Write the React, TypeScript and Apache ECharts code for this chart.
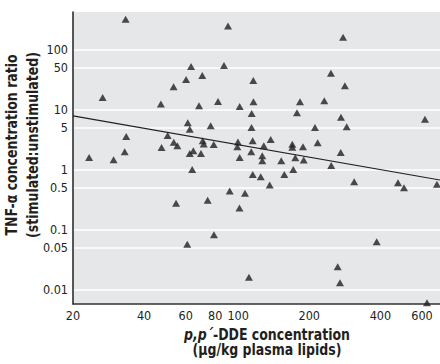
import React, { useEffect, useRef } from "react";
import * as echarts from "echarts";

// p,p'-DDE concentration (µg/kg plasma lipids)
const ddeValues = [
  33.4, 90.6, 278, 63.2, 87.1, 247, 60.2, 70.5, 115.9, 53.3,
  283, 26.7, 47.1, 68.3, 82.2, 101.5, 116.1, 182.7, 231.5, 114.1,
  177.4, 272.4, 617.6, 61.2, 62.4, 76.5, 113.9, 211.4, 288, 33.6,
  50.3, 53.4, 55.3, 47.4, 70.8, 71.5, 78.8, 99.8, 99.2, 115.2,
  137.3, 128.4, 169.5, 169.5, 188.1, 217, 33.1, 23.4, 29.7, 64.6,
  62.4, 69.6, 101.5, 113.6, 126.5, 126.5, 152.2, 174.5, 189.4, 271.7,
  247.7, 63.9, 115.3, 124.6, 156.8, 171.1, 136, 309.8, 474.8, 503.5,
  694, 92.1, 106.9, 54.6, 74.3, 101.3, 79, 60.9, 385.8, 263.8,
  111.1, 269.8, 629.8,
];
// TNF-alpha concentration ratio (stimulated:unstimulated)
const tnfRatios = [
  315, 244, 158, 51.8, 53.8, 39.9, 31.5, 36.7, 30.3, 23.9,
  24.8, 15.8, 12.3, 11.55, 13.6, 11.2, 13.5, 13.5, 14.0, 8.57,
  8.84, 7.41, 6.87, 6.03, 4.68, 5.38, 5.02, 5.02, 5.17, 3.56,
  3.69, 2.85, 2.5, 2.33, 3.03, 2.67, 2.62, 2.88, 2.41, 3.03,
  3.17, 2.5, 2.64, 2.35, 2.41, 2.8, 1.98, 1.59, 1.46, 2.06,
  1.86, 1.86, 1.59, 1.99, 1.71, 1.41, 1.41, 1.58, 1.45, 1.93,
  1.17, 1.006, 0.834, 0.763, 0.834, 1.006, 0.556, 0.63, 0.607, 0.501,
  0.571, 0.442, 0.405, 0.276, 0.31, 0.2305, 0.083, 0.0575, 0.0635, 0.0244,
  0.01626, 0.01322, 0.00615,
];
// regression line end points
const fitX = [20, 715];
const fitY = [7.83, 0.673];

const xTickLabels = [20, 40, 60, 80, 100, 200, 400, 600];
const yTickLabels = [0.01, 0.05, 0.1, 0.5, 1, 5, 10, 50, 100];

const FONT = '"DejaVu Sans Condensed", "Liberation Sans Narrow", sans-serif';
const INK = "#231f20";

export default function App() {
  const ref = useRef<HTMLDivElement>(null);
  useEffect(() => {
    document.body.style.margin = "0";
    const chart = echarts.init(ref.current!, null, { renderer: "svg" });
    const points = ddeValues.map((x, i) => [x, tnfRatios[i]]);
    const fit = fitX.map((x, i) => [x, fitY[i]]);
    chart.setOption({
      animation: false,
      backgroundColor: "#ffffff",
      grid: {
        left: 73,
        top: 12,
        right: 0,
        bottom: 60,
        show: true,
        backgroundColor: "#e6e7e8",
        borderWidth: 0,
      },
      xAxis: {
        type: "log",
        logBase: 10,
        min: 20,
        max: 715,
        axisLine: { show: true, onZero: false, lineStyle: { color: "#333333", width: 1.5 } },
        axisTick: { show: false, customValues: xTickLabels },
        splitLine: { show: false },
        minorTick: { show: false },
        axisLabel: {
          customValues: xTickLabels,
          margin: 5,
          fontFamily: FONT,
          fontSize: 12.5,
          color: INK,
          formatter: (v: number) => String(Math.round(v)),
        },
      },
      yAxis: {
        type: "log",
        logBase: 10,
        min: 0.00585,
        max: 417,
        axisLine: { show: true, onZero: false, lineStyle: { color: "#222222", width: 1.5 } },
        axisTick: { show: false, customValues: yTickLabels },
        splitLine: { show: true, lineStyle: { color: "#ffffff", width: 1.6 } },
        axisLabel: {
          customValues: yTickLabels,
          margin: 5,
          fontFamily: FONT,
          fontSize: 12.5,
          color: INK,
          formatter: (v: number) => String(Number(v.toPrecision(3))),
        },
      },
      series: [
        {
          type: "scatter",
          data: points,
          symbol: "triangle",
          symbolSize: [8, 7],
          itemStyle: { color: INK },
          clip: false,
          z: 3,
        },
        {
          type: "line",
          data: fit,
          symbol: "none",
          lineStyle: { color: INK, width: 1.2 },
          z: 2,
        },
      ],
      graphic: [
        {
          type: "text",
          x: 12,
          y: 145,
          rotation: Math.PI / 2,
          scaleX: 0.87,
          style: {
            text: "TNF-α concentration ratio",
            fontFamily: FONT,
            fontWeight: "bold",
            fontSize: 16,
            fill: INK,
            align: "center",
            verticalAlign: "middle",
          },
        },
        {
          type: "text",
          x: 33,
          y: 145,
          rotation: Math.PI / 2,
          scaleX: 0.87,
          style: {
            text: "(stimulated:unstimulated)",
            fontFamily: FONT,
            fontWeight: "bold",
            fontSize: 16,
            fill: INK,
            align: "center",
            verticalAlign: "middle",
          },
        },
        {
          type: "text",
          x: 267,
          y: 342,
          scaleX: 0.87,
          style: {
            text: "{i|p,p´}{b|-DDE concentration}\n{b|(μg/kg plasma lipids)}",
            align: "center",
            verticalAlign: "middle",
            rich: {
              i: { fontFamily: FONT, fontWeight: "bold", fontStyle: "italic", fontSize: 16, lineHeight: 14.5, fill: INK },
              b: { fontFamily: FONT, fontWeight: "bold", fontSize: 16, lineHeight: 14.5, fill: INK },
            },
          },
        },
      ],
    });
    return () => chart.dispose();
  }, []);
  return (
    <div
      ref={ref}
      style={{ position: "fixed", left: 0, top: 0, width: 440, height: 364 }}
    />
  );
}
